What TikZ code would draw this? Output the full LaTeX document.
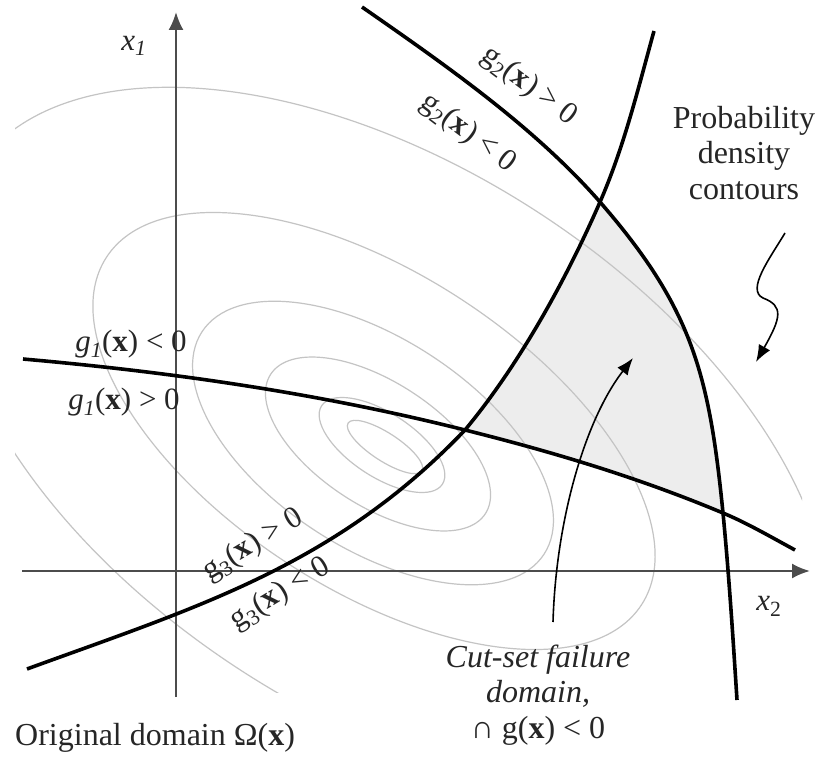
\documentclass[tikz,border=0pt]{standalone}
\usepackage{fontspec}
\setmainfont{Liberation Serif}
\usetikzlibrary{arrows.meta}
\begin{document}
\begin{tikzpicture}[x=1pt,y=-1pt,
  contour/.style={draw=black!23, line width=1.2pt},
  axis/.style={draw=black!70, line width=2.2pt, -{Latex[length=18pt,width=15pt]}},
  limit/.style={draw=black, line width=3.6pt},
  pointer/.style={draw=black, line width=1.6pt, -{Latex[length=17pt,width=13pt]}},
  lbl/.style={font=\fontsize{31}{34}\selectfont, text=black!85, inner sep=0pt},
  big/.style={font=\fontsize{32}{35.5}\selectfont, text=black!85, inner sep=0pt, align=center},
]
\useasboundingbox (0,0) rectangle (822,757);
\fill[white] (0,0) rectangle (822,757);

% key points
\coordinate (A) at (465,430);
\coordinate (B) at (600,202);
\coordinate (C) at (723,513);
\coordinate (g1s) at (23,359);
\coordinate (g1e) at (795,550);
\coordinate (g2s) at (362,7);
\coordinate (g2e) at (737,700);
\coordinate (g3s) at (27,669);
\coordinate (g3e) at (654,31);

% failure domain
\fill[black!7] (A) .. controls (519,365) and (566,280) .. (B)
  .. controls (692,308) and (709,373) .. (C)
  .. controls (637,477) and (551,451.5) .. (A) -- cycle;

% probability density contours
\begin{scope}
\clip (15,60) rectangle (802,692);
\draw[contour, rotate around={-33:(385,447)}] (385,447) ellipse [x radius=44, y radius=14];
\draw[contour, rotate around={-33:(382,445)}] (382,445) ellipse [x radius=72, y radius=32];
\draw[contour, rotate around={-33:(378,444)}] (378,444) ellipse [x radius=128, y radius=62];
\draw[contour, rotate around={-33:(373,443)}] (373,443) ellipse [x radius=204, y radius=105];
\draw[contour, rotate around={-33:(374,431)}] (374,431) ellipse [x radius=319, y radius=158];
\draw[contour, rotate around={-33:(389,441)}] (389,441) ellipse [x radius=495, y radius=273];
\end{scope}

% axes
\coordinate (yb) at (176,697);
\coordinate (yt) at (176,12);
\coordinate (xl) at (22,571);
\coordinate (xr) at (810,571);
\draw[axis] (yb) -- (yt);
\draw[axis] (xl) -- (xr);

% limit state curves
\draw[limit] (g1s) .. controls (170,372) and (318,393) .. (A)
  .. controls (551,451.5) and (637,477) .. (C)
  .. controls (747,523) and (771,537) .. (g1e);
\draw[limit] (g2s) .. controls (444,64) and (534,126.5) .. (B)
  .. controls (692,308) and (709,373) .. (C)
  .. controls (729,575) and (733,638) .. (g2e);
\draw[limit] (g3s) .. controls (197,607) and (335,566) .. (A)
  .. controls (519,365) and (566,280) .. (B)
  .. controls (624,147) and (638,89) .. (g3e);

% labels
\node[lbl] (x1) at (134,46) {\textit{x}\textsubscript{\textit{1}}};
\node[lbl] (x2) at (769,606) {\textit{x}\textsubscript{2}};
\node[lbl] (g1a) at (131,344) {\textit{g}\textsubscript{\textit{1}}(\textbf{x}) < 0};
\node[lbl] (g1b) at (124,402) {\textit{g}\textsubscript{\textit{1}}(\textbf{x}) > 0};
\node[lbl, rotate=-37] (g2a) at (529,86) {g\textsubscript{2}(\textbf{x}) > 0};
\node[lbl, rotate=-37] (g2b) at (468,133) {g\textsubscript{2}(\textbf{x}) < 0};
\node[lbl, rotate=31] (g3a) at (253,545) {g\textsubscript{3}(\textbf{x}) > 0};
\node[lbl, rotate=31] (g3b) at (280,594) {g\textsubscript{3}(\textbf{x}) < 0};

\node[big] (pdc) at (744,153) {Probability\\density\\contours};
\node[big] (csf) at (538,695) {{\itshape Cut-set failure}\\{\itshape domain,}\\∩ g(\textbf{x}) < 0};
\node[big, anchor=base west] (od) at (15,745) {Original domain Ω(\textbf{x})};

% pointers
\coordinate (sq0) at (785,233);
\coordinate (sq1) at (756,362);
\draw[pointer] (sq0) .. controls (770,258) and (746,290) .. (763,298)
  .. controls (784,306) and (781,318) .. (sq1);
\coordinate (cs0) at (553,622);
\coordinate (cs1) at (633,358);
\draw[pointer] (cs0) .. controls (556,520) and (585,420) .. (cs1);
\end{tikzpicture}
\end{document}
